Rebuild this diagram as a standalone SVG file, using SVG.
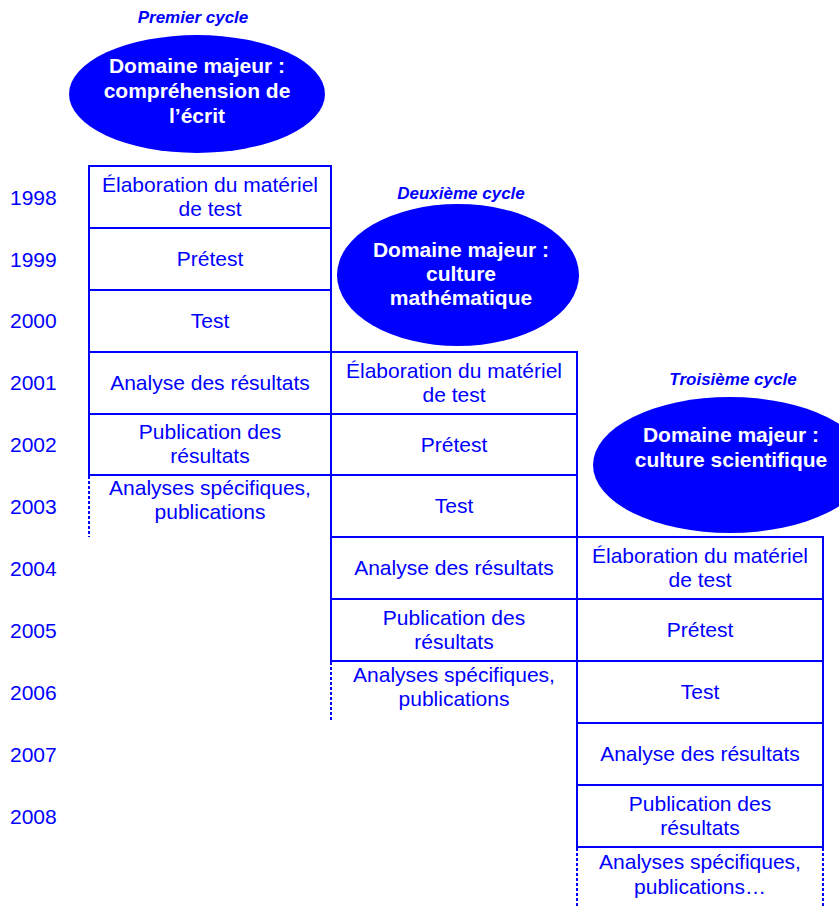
<svg xmlns="http://www.w3.org/2000/svg" width="839" height="906" viewBox="0 0 839 906">
<style>
text{font-family:"Liberation Sans",Arial,sans-serif;fill:#0000FF;text-anchor:middle;font-size:21px}
.yr{text-anchor:start}
.cyc{font-size:17px;font-weight:bold;font-style:italic}
.ell{fill:#0000FF}
.et{fill:#FFFFFF;font-weight:bold}
.cell{fill:none;stroke:#0000FF;stroke-width:2}
.dash{fill:none;stroke:#0000FF;stroke-width:2;stroke-dasharray:3 2}
</style>
<rect width="839" height="906" fill="#FFFFFF"/>
<g id="years">
<text class="yr" x="10" y="205">1998</text>
<text class="yr" x="10" y="267">1999</text>
<text class="yr" x="10" y="328">2000</text>
<text class="yr" x="10" y="390">2001</text>
<text class="yr" x="10" y="452">2002</text>
<text class="yr" x="10" y="514">2003</text>
<text class="yr" x="10" y="576">2004</text>
<text class="yr" x="10" y="638">2005</text>
<text class="yr" x="10" y="700">2006</text>
<text class="yr" x="10" y="762">2007</text>
<text class="yr" x="10" y="824">2008</text>
</g>
<g id="cycle1">
<text class="cyc" x="193" y="23">Premier cycle</text>
<ellipse class="ell" cx="197" cy="94" rx="128" ry="59"/>
<text class="et" x="197" y="73">Domaine majeur :</text>
<text class="et" x="197" y="98">compréhension de</text>
<text class="et" x="197" y="123">l’écrit</text>
</g>
<g id="cycle2">
<text class="cyc" x="461" y="199">Deuxième cycle</text>
<ellipse class="ell" cx="458" cy="275" rx="121" ry="71"/>
<text class="et" x="461" y="257">Domaine majeur :</text>
<text class="et" x="461" y="281">culture</text>
<text class="et" x="461" y="305">mathématique</text>
</g>
<g id="cycle3">
<text class="cyc" x="733" y="385">Troisième cycle</text>
<ellipse class="ell" cx="730" cy="465" rx="137" ry="68"/>
<text class="et" x="731" y="442">Domaine majeur :</text>
<text class="et" x="731" y="467">culture scientifique</text>
</g>
<g id="col1">
<g id="c1-1998"><rect class="cell" x="89" y="166" width="242" height="62"/><text x="210" y="192">Élaboration du matériel</text><text x="210" y="216">de test</text></g>
<g id="c1-1999"><rect class="cell" x="89" y="228" width="242" height="62"/><text x="210" y="266">Prétest</text></g>
<g id="c1-2000"><rect class="cell" x="89" y="290" width="242" height="62"/><text x="210" y="328">Test</text></g>
<g id="c1-2001"><rect class="cell" x="89" y="352" width="242" height="62"/><text x="210" y="390">Analyse des résultats</text></g>
<g id="c1-2002"><rect class="cell" x="89" y="414" width="242" height="61"/><text x="210" y="439">Publication des</text><text x="210" y="463">résultats</text></g>
<g id="c1-2003"><line class="dash" x1="89" y1="476" x2="89" y2="537"/><text x="210" y="495">Analyses spécifiques,</text><text x="210" y="519">publications</text></g>
</g>
<g id="col2">
<g id="c2-2001"><rect class="cell" x="331" y="352" width="246" height="62"/><text x="454" y="378">Élaboration du matériel</text><text x="454" y="402">de test</text></g>
<g id="c2-2002"><rect class="cell" x="331" y="414" width="246" height="61"/><text x="454" y="452">Prétest</text></g>
<g id="c2-2003"><rect class="cell" x="331" y="475" width="246" height="62"/><text x="454" y="513">Test</text></g>
<g id="c2-2004"><rect class="cell" x="331" y="537" width="246" height="62"/><text x="454" y="575">Analyse des résultats</text></g>
<g id="c2-2005"><rect class="cell" x="331" y="599" width="246" height="62"/><text x="454" y="625">Publication des</text><text x="454" y="649">résultats</text></g>
<g id="c2-2006"><line class="dash" x1="331" y1="662" x2="331" y2="722"/><text x="454" y="682">Analyses spécifiques,</text><text x="454" y="706">publications</text></g>
</g>
<g id="col3">
<g id="c3-2004"><rect class="cell" x="577" y="537" width="246" height="62"/><text x="700" y="563">Élaboration du matériel</text><text x="700" y="587">de test</text></g>
<g id="c3-2005"><rect class="cell" x="577" y="599" width="246" height="62"/><text x="700" y="637">Prétest</text></g>
<g id="c3-2006"><rect class="cell" x="577" y="661" width="246" height="62"/><text x="700" y="699">Test</text></g>
<g id="c3-2007"><rect class="cell" x="577" y="723" width="246" height="62"/><text x="700" y="761">Analyse des résultats</text></g>
<g id="c3-2008"><rect class="cell" x="577" y="785" width="246" height="62"/><text x="700" y="811">Publication des</text><text x="700" y="835">résultats</text></g>
<g id="c3-after"><line class="dash" x1="577" y1="848" x2="577" y2="906"/><line class="dash" x1="823" y1="848" x2="823" y2="906"/><text x="700" y="869">Analyses spécifiques,</text><text x="700" y="894">publications…</text></g>
</g>
</svg>
